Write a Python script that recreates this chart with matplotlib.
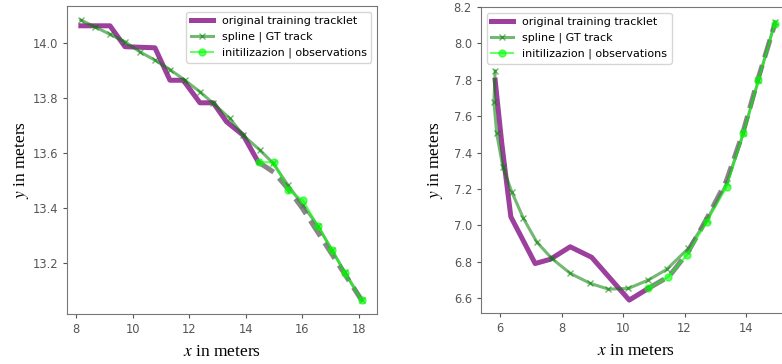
import matplotlib
matplotlib.use("Agg")
import matplotlib.pyplot as plt

# === Left track ===
orig_x_l = [8.17, 9.20, 9.73, 10.79, 11.32, 11.79, 12.38, 12.85, 13.32, 13.91, 14.44]
orig_y_l = [14.063, 14.063, 13.987, 13.983, 13.865, 13.865, 13.783, 13.783, 13.714, 13.665, 13.568]

spline_x_l = [8.17, 8.67, 9.20, 9.73, 10.26, 10.79, 11.32, 11.85, 12.38, 12.85, 13.44,
              13.91, 14.50, 14.96, 15.49, 16.02, 16.55, 17.05, 17.50, 18.10]
spline_y_l = [14.084, 14.059, 14.032, 14.005, 13.968, 13.938, 13.904, 13.865, 13.823, 13.781, 13.726,
              13.665, 13.611, 13.564, 13.484, 13.410, 13.335, 13.247, 13.167, 13.065]

pred_x_l = [14.44, 15.00, 15.50, 16.00, 16.50, 17.00, 17.50, 18.10]
pred_y_l = [13.568, 13.530, 13.470, 13.400, 13.320, 13.240, 13.160, 13.065]

init_x_l = [14.47, 15.00, 15.49, 16.02, 16.55, 17.05, 17.50, 18.10]
init_y_l = [13.567, 13.567, 13.465, 13.429, 13.335, 13.247, 13.164, 13.065]

# === Right track ===
orig_x_r = [5.84, 5.95, 6.05, 6.15, 6.35, 7.14, 7.63, 8.28, 8.98, 10.20, 10.82]
orig_y_r = [7.798, 7.620, 7.460, 7.320, 7.047, 6.790, 6.813, 6.882, 6.824, 6.589, 6.653]

spline_x_r = [5.84, 5.80, 5.89, 6.09, 6.38, 6.76, 7.19, 7.68, 8.28, 8.93, 9.52, 10.17,
              10.82, 11.42, 12.12, 12.72, 13.37, 13.91, 14.40, 14.94]
spline_y_r = [7.849, 7.679, 7.505, 7.321, 7.184, 7.038, 6.909, 6.818, 6.736, 6.681, 6.649, 6.653,
              6.699, 6.758, 6.873, 7.029, 7.230, 7.505, 7.798, 8.118]

pred_x_r = [10.82, 11.50, 12.10, 12.70, 13.35, 13.88, 14.38, 14.94]
pred_y_r = [6.653, 6.720, 6.850, 7.030, 7.240, 7.500, 7.800, 8.110]

init_x_r = [10.82, 11.47, 12.07, 12.72, 13.37, 13.91, 14.40, 14.94]
init_y_r = [6.653, 6.717, 6.836, 7.019, 7.212, 7.505, 7.798, 8.109]

plt.rcParams['mathtext.fontset'] = 'stix'
label_font = dict(fontfamily='Liberation Serif', fontsize=12.5)

fig = plt.figure(figsize=(7.82, 3.64), dpi=100)
ax1 = fig.add_axes([67 / 782, 1 - 314 / 364, 310 / 782, 308 / 364])
ax2 = fig.add_axes([481 / 782, 1 - 313 / 364, 310 / 782, 306 / 364])


def draw_track(ax, ox, oy, sx, sy, px, py, ix, iy, loc, ypad):
    ax.plot(ox, oy, color='#932a93', lw=3.6, alpha=0.9, label='original training tracklet')
    ax.plot(sx, sy, color='green', lw=2.2, alpha=0.55, marker='x', ms=5,
            label='spline | GT track')
    ax.plot(px, py, color='dimgray', lw=3.6, ls='--', alpha=0.8)
    ax.plot(ix, iy, color='lime', lw=1.5, alpha=0.6, marker='o', ms=5,
            label='initilizazion | observations')
    ax.legend(loc=loc, fontsize=8, framealpha=0.8)
    ax.set_xlabel('$x$ in meters', labelpad=6, **label_font)
    ax.set_ylabel('$y$ in meters', labelpad=ypad, **label_font)
    ax.tick_params(labelsize=8.3, colors='#555', length=3)
    for s in ax.spines.values():
        s.set_color('#777')


draw_track(ax1, orig_x_l, orig_y_l, spline_x_l, spline_y_l, pred_x_l, pred_y_l,
           init_x_l, init_y_l, 'upper right', 1)
ax1.set_xlim(7.68, 18.64)
ax1.set_ylim(13.015, 14.135)
ax1.set_xticks([8, 10, 12, 14, 16, 18])
ax1.set_yticks([13.2, 13.4, 13.6, 13.8, 14.0])

draw_track(ax2, orig_x_r, orig_y_r, spline_x_r, spline_y_r, pred_x_r, pred_y_r,
           init_x_r, init_y_r, 'upper left', 6)
ax2.set_xlim(5.38, 15.46)
ax2.set_ylim(6.518, 8.2)
ax2.set_xticks([6, 8, 10, 12, 14])
ax2.set_yticks([6.6, 6.8, 7.0, 7.2, 7.4, 7.6, 7.8, 8.0, 8.2])

fig.savefig('out.png', dpi=100)
